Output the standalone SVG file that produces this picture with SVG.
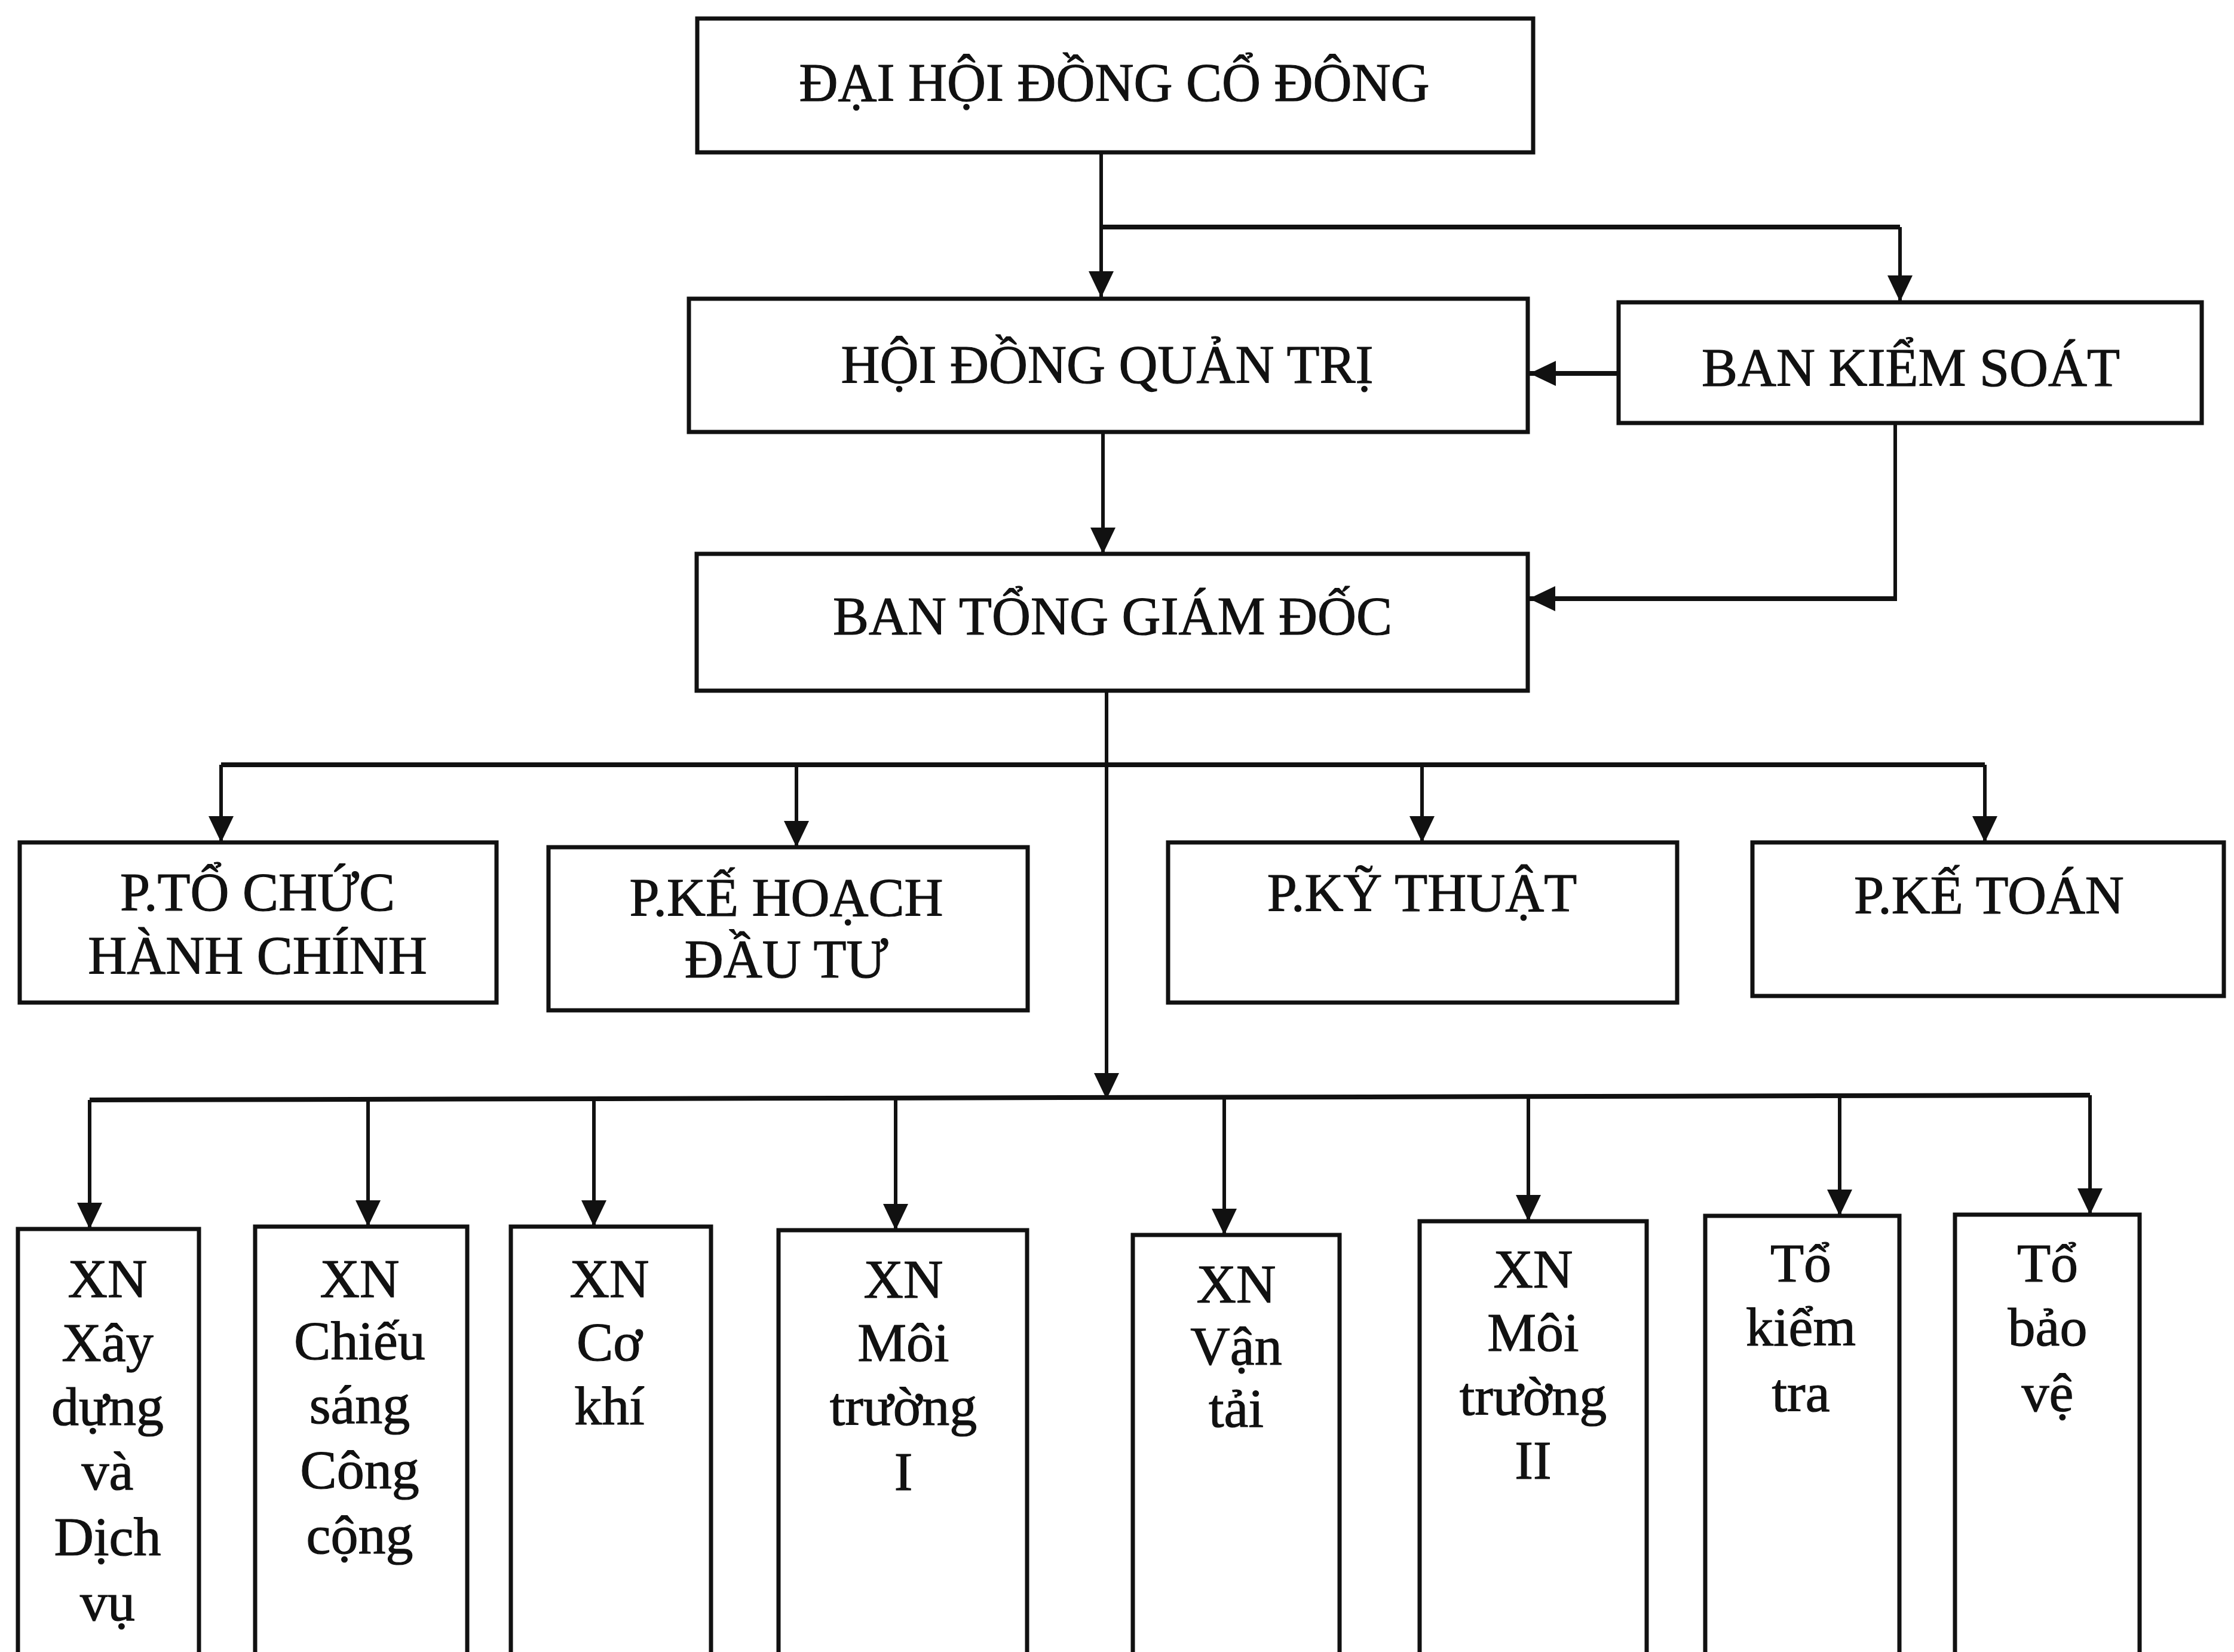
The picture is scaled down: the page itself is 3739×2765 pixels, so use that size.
<svg xmlns="http://www.w3.org/2000/svg" width="3739" height="2765" viewBox="0 0 3739 2765">
<style>
.box{fill:none;stroke:#111;stroke-width:7}
.t{font-family:"Liberation Serif","Times New Roman",serif;font-size:90px;fill:#111;stroke:#111;stroke-width:1.2;text-anchor:middle}
.s{font-family:"Liberation Serif","Times New Roman",serif;font-size:92px;fill:#111;stroke:#111;stroke-width:1.2;text-anchor:middle}
.c{fill:none;stroke:#111;stroke-width:6}
.bus{fill:none;stroke:#111;stroke-width:8}
</style>
<defs>
<marker id="ah" markerUnits="userSpaceOnUse" markerWidth="50" markerHeight="44" refX="44" refY="21" orient="auto">
<path d="M0,0 L44,21 L0,42 Z" fill="#111"/>
</marker>
</defs>
<rect width="3739" height="2765" fill="#fff"/>

<g id="connectors">
<line class="c" x1="1843" y1="255" x2="1843" y2="498" marker-end="url(#ah)"/>
<polyline class="bus" points="1843,380 3180,380"/>
<line class="c" x1="3180" y1="380" x2="3180" y2="505" marker-end="url(#ah)"/>
<line class="bus" x1="2709" y1="625" x2="2560" y2="625" marker-end="url(#ah)"/>
<line class="c" x1="1846" y1="723" x2="1846" y2="927" marker-end="url(#ah)"/>
<polyline class="c" points="3172,708 3172,1002"/>
<line class="bus" x1="3175" y1="1002" x2="2559" y2="1002" marker-end="url(#ah)"/>
<line class="c" x1="1852" y1="1157" x2="1852" y2="1840" marker-end="url(#ah)"/>
<line class="bus" x1="370" y1="1280" x2="3322" y2="1280"/>
<line class="c" x1="370" y1="1280" x2="370" y2="1410" marker-end="url(#ah)"/>
<line class="c" x1="1333" y1="1280" x2="1333" y2="1418" marker-end="url(#ah)"/>
<line class="c" x1="2380" y1="1280" x2="2380" y2="1410" marker-end="url(#ah)"/>
<line class="c" x1="3322" y1="1280" x2="3322" y2="1410" marker-end="url(#ah)"/>
<line class="bus" x1="150" y1="1841" x2="3498" y2="1833"/>
<line class="c" x1="150" y1="1841" x2="150" y2="2057" marker-end="url(#ah)"/>
<line class="c" x1="616" y1="1840" x2="616" y2="2053" marker-end="url(#ah)"/>
<line class="c" x1="994" y1="1839" x2="994" y2="2053" marker-end="url(#ah)"/>
<line class="c" x1="1499" y1="1838" x2="1499" y2="2059" marker-end="url(#ah)"/>
<line class="c" x1="2049" y1="1836" x2="2049" y2="2067" marker-end="url(#ah)"/>
<line class="c" x1="2558" y1="1835" x2="2558" y2="2044" marker-end="url(#ah)"/>
<line class="c" x1="3079" y1="1834" x2="3079" y2="2035" marker-end="url(#ah)"/>
<line class="c" x1="3498" y1="1833" x2="3498" y2="2033" marker-end="url(#ah)"/>
</g>

<g id="n-dhdcd"><rect class="box" x="1167" y="31" width="1399" height="224"/><text class="t" x="1865" y="169">ĐẠI HỘI ĐỒNG CỔ ĐÔNG</text></g>
<g id="n-hdqt"><rect class="box" x="1153" y="500" width="1404" height="223"/><text class="t" x="1853" y="641">HỘI ĐỒNG QUẢN TRỊ</text></g>
<g id="n-bks"><rect class="box" x="2709" y="506" width="976" height="202"/><text class="t" x="3198" y="646">BAN KIỂM SOÁT</text></g>
<g id="n-btgd"><rect class="box" x="1166" y="927" width="1391" height="229"/><text class="t" x="1862" y="1062">BAN TỔNG GIÁM ĐỐC</text></g>

<g id="n-tchc"><rect class="box" x="33" y="1410" width="798" height="268"/><text class="t" x="431" y="1524">P.TỔ CHỨC</text><text class="t" x="431" y="1630">HÀNH CHÍNH</text></g>
<g id="n-khdt"><rect class="box" x="918" y="1418" width="802" height="273"/><text class="t" x="1316" y="1533">P.KẾ HOẠCH</text><text class="t" x="1316" y="1636">ĐẦU TƯ</text></g>
<g id="n-kt"><rect class="box" x="1955" y="1410" width="852" height="268"/><text class="t" x="2380" y="1525">P.KỸ THUẬT</text></g>
<g id="n-ketoan"><rect class="box" x="2933" y="1410" width="789" height="257"/><text class="t" x="3329" y="1529">P.KẾ TOÁN</text></g>

<g id="n-xd"><rect class="box" x="30" y="2057" width="303" height="760"/>
<text class="s" x="180" y="2171">XN</text><text class="s" x="180" y="2278">Xây</text><text class="s" x="180" y="2385">dựng</text><text class="s" x="180" y="2493">và</text><text class="s" x="180" y="2603">Dịch</text><text class="s" x="180" y="2712">vụ</text></g>
<g id="n-cs"><rect class="box" x="427" y="2053" width="355" height="760"/>
<text class="s" x="602" y="2171">XN</text><text class="s" x="602" y="2275">Chiếu</text><text class="s" x="602" y="2382">sáng</text><text class="s" x="602" y="2491">Công</text><text class="s" x="602" y="2600">cộng</text></g>
<g id="n-ck"><rect class="box" x="855" y="2053" width="335" height="760"/>
<text class="s" x="1020" y="2171">XN</text><text class="s" x="1020" y="2277">Cơ</text><text class="s" x="1020" y="2384">khí</text></g>
<g id="n-mt1"><rect class="box" x="1303" y="2059" width="416" height="760"/>
<text class="s" x="1512" y="2172">XN</text><text class="s" x="1512" y="2278">Môi</text><text class="s" x="1512" y="2385">trường</text><text class="s" x="1512" y="2494">I</text></g>
<g id="n-vt"><rect class="box" x="1896" y="2067" width="346" height="760"/>
<text class="s" x="2069" y="2180">XN</text><text class="s" x="2069" y="2284">Vận</text><text class="s" x="2069" y="2388">tải</text></g>
<g id="n-mt2"><rect class="box" x="2376" y="2044" width="380" height="760"/>
<text class="s" x="2566" y="2155">XN</text><text class="s" x="2566" y="2261">Môi</text><text class="s" x="2566" y="2368">trường</text><text class="s" x="2566" y="2475">II</text></g>
<g id="n-tkt"><rect class="box" x="2854" y="2035" width="325" height="760"/>
<text class="s" x="3014" y="2145">Tổ</text><text class="s" x="3014" y="2252">kiểm</text><text class="s" x="3014" y="2362">tra</text></g>
<g id="n-tbv"><rect class="box" x="3272" y="2033" width="309" height="760"/>
<text class="s" x="3427" y="2145">Tổ</text><text class="s" x="3427" y="2252">bảo</text><text class="s" x="3427" y="2362">vệ</text></g>
</svg>
